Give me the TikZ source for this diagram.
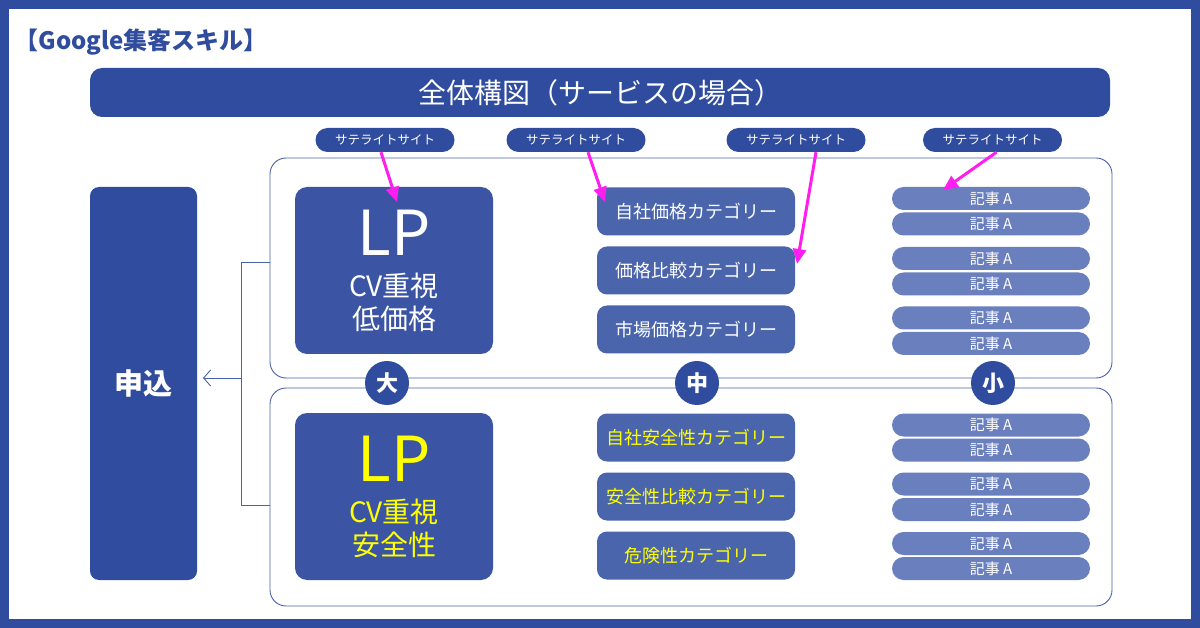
\documentclass[tikz,border=0pt]{standalone}
\usepackage{fontspec}
\setmainfont{Noto Sans CJK JP}
\usetikzlibrary{arrows.meta,positioning}

\definecolor{navy}{HTML}{2F4C9E}
\definecolor{lpblue}{HTML}{3B55A4}
\definecolor{catblue}{HTML}{4B65AD}
\definecolor{artblue}{HTML}{6A7FBE}
\definecolor{rimblue}{HTML}{4A62AC}
\definecolor{hotpink}{HTML}{FF1EF0}
\definecolor{lpyellow}{HTML}{FFFF00}

\newcommand{\pxsize}[2]{\fontsize{#1}{#2}\selectfont}

\tikzset{
  darkbox/.style={fill=navy,text=white,rounded corners=12pt,inner sep=0pt,outer sep=0pt},
  groupbox/.style={draw=rimblue,line width=0.9pt,rounded corners=16pt,fill=white,
    minimum width=842pt,inner sep=0pt,outer sep=0pt},
  lpbox/.style={fill=lpblue,text=white,rounded corners=12pt,minimum width=198pt,
    minimum height=167pt,align=center,inner sep=0pt,outer sep=0pt,font=\pxsize{28}{33}},
  catbox/.style={fill=catblue,text=white,rounded corners=10pt,minimum width=198pt,
    minimum height=48pt,inner sep=0pt,outer sep=0pt,font=\pxsize{18}{20}},
  artbox/.style={fill=artblue,text=white,rounded corners=11.5pt,minimum width=198pt,
    minimum height=23pt,inner sep=0pt,outer sep=0pt,font=\pxsize{15}{16}},
  satpill/.style={fill=navy,text=white,rounded corners=12pt,minimum width=139pt,
    minimum height=24pt,inner sep=0pt,font=\pxsize{12.5}{14}},
  sizedot/.style={circle,fill=navy,text=white,minimum size=44pt,inner sep=0pt,
    font=\bfseries\pxsize{22}{24}},
  satarrow/.style={hotpink,line width=3pt,-{Triangle[length=15pt,width=13pt]}},
  linkline/.style={rimblue,line width=0.9pt},
}

\begin{document}
\begin{tikzpicture}[x=1pt,y=-1pt]
  \fill[navy] (0,0) rectangle (1200,628);
  \fill[white] (9,9) rectangle (1191,619);
  \useasboundingbox (0,0) rectangle (1200,628);

  % title and header bar
  \node[anchor=west,text=navy,font=\bfseries\pxsize{24}{26}] (title) at (11,42)
    {【Google集客スキル】};
  \node[darkbox,minimum width=1020pt,minimum height=49pt,font=\pxsize{28}{30}]
    (head) at (600,92.5) {全体構図（サービスの場合）};

  % application column
  \node[darkbox,rounded corners=9pt,minimum width=107pt,minimum height=393pt,
    font=\bfseries\pxsize{29}{30}] (apply) at (143.5,383.5) {申込};

  % the two groups
  \node[groupbox,minimum height=220pt] (grpA) at (691,268) {};
  \node[groupbox,minimum height=218pt] (grpB) at (691,497) {};

  \coordinate (join) at (241,378);
  \draw[linkline] ([yshift=6pt]grpA.west) -- ++(-29,0) |- ([yshift=-8pt]grpB.west);
  \draw[linkline,-{Straight Barb[length=7pt,width=16pt]},shorten >=6pt]
    (join) -- (join -| apply.east);

  % large: landing pages
  \node[lpbox] (lpA) at (394,270.5)
    {{\pxsize{62}{46}LP}\\[8pt]CV重視\\低価格};
  \node[lpbox,text=lpyellow] (lpB) at (394,496.5)
    {{\pxsize{62}{46}LP}\\[8pt]CV重視\\安全性};

  % middle: categories
  \node[catbox] (catA1) at (696,211.5) {自社価格カテゴリー};
  \node[catbox,below=11pt of catA1] (catA2) {価格比較カテゴリー};
  \node[catbox,below=11pt of catA2] (catA3) {市場価格カテゴリー};
  \node[catbox,text=lpyellow] (catB1) at (696,437.5) {自社安全性カテゴリー};
  \node[catbox,text=lpyellow,below=11pt of catB1] (catB2) {安全性比較カテゴリー};
  \node[catbox,text=lpyellow,below=11pt of catB2] (catB3) {危険性カテゴリー};

  % small: articles
  \foreach \y [count=\i] in {198.5,224,258.5,284,318,343.5,425,450,484,509.5,543.5,568.5}
    \node[artbox] (art\i) at (991,\y) {記事 A};

  % size markers
  \node[sizedot] (big) at (387,383) {大};
  \node[sizedot] (mid) at (697,383) {中};
  \node[sizedot] (small) at (993,383) {小};

  % satellite sites
  \foreach \x [count=\i] in {385,576,796,992.5}
    \node[satpill] (sat\i) at (\x,140) {サテライトサイト};

  \coordinate (hit1) at (397,202);
  \coordinate (hit2) at (605,202);
  \coordinate (hit3) at (797,264);
  \coordinate (hit4) at (943,190);
  \draw[satarrow] ([xshift=-4pt]sat1.south) -- (hit1);
  \draw[satarrow] ([xshift=12pt]sat2.south) -- (hit2);
  \draw[satarrow] ([xshift=20pt]sat3.south) -- (hit3);
  \draw[satarrow] ([xshift=4pt]sat4.south) -- (hit4);
\end{tikzpicture}
\end{document}
